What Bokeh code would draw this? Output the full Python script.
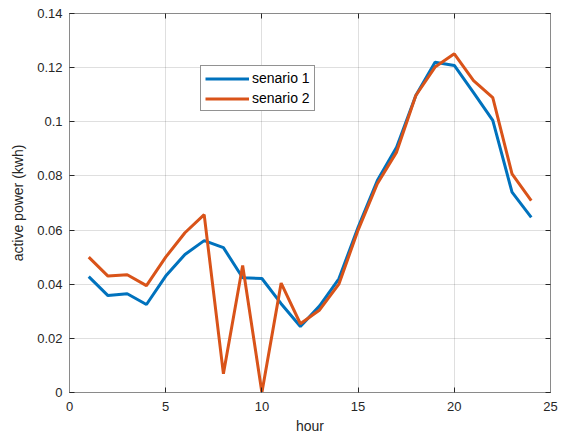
from bokeh.plotting import figure
from bokeh.models import LinearAxis, Range1d, FixedTicker, Legend, LegendItem
from bokeh.embed import file_html
from bokeh.resources import INLINE

hours = list(range(1, 25))
senario1 = [0.0428, 0.0358, 0.0365, 0.0325, 0.0430, 0.0510, 0.0561, 0.0535,
            0.0424, 0.0421, 0.0328, 0.0244, 0.0320, 0.0420, 0.0610, 0.0783,
            0.0906, 0.1097, 0.1220, 0.1208, 0.1108, 0.1005, 0.0740, 0.0647]
senario2 = [0.0500, 0.0430, 0.0435, 0.0395, 0.0500, 0.0590, 0.0657, 0.0069,
            0.0469, 0.0000, 0.0404, 0.0254, 0.0305, 0.0400, 0.0600, 0.0771,
            0.0888, 0.1097, 0.1202, 0.1251, 0.1152, 0.1089, 0.0808, 0.0709]
x_ticks = [0, 5, 10, 15, 20, 25]
y_ticks = [0, 0.02, 0.04, 0.06, 0.08, 0.1, 0.12, 0.14]
y_tick_labels = ["0", "0.02", "0.04", "0.06", "0.08", "0.1", "0.12", "0.14"]

FONT = "Liberation Sans"
AX = "#262626"
LINE = "#8a8a8a"

p = figure(width=562, height=436, output_backend="svg", toolbar_location=None,
           x_range=Range1d(0, 25), y_range=Range1d(0, 0.14),
           min_border_left=69, min_border_right=12, min_border_top=13, min_border_bottom=44)
p.background_fill_color = "white"
p.border_fill_color = "white"
p.outline_line_color = LINE
p.outline_line_width = 1

for ax in (p.xaxis[0], p.yaxis[0]):
    ax.axis_line_color = LINE
    ax.major_tick_line_color = AX
    ax.major_tick_in = 5
    ax.major_tick_out = 0
    ax.minor_tick_line_color = None
    ax.major_label_text_font = FONT
    ax.major_label_text_font_size = "13px"
    ax.major_label_text_color = AX
    ax.axis_label_text_font = FONT
    ax.axis_label_text_font_size = "14px"
    ax.axis_label_text_font_style = "normal"
    ax.axis_label_text_color = AX

p.xaxis.ticker = FixedTicker(ticks=x_ticks)
p.yaxis.ticker = FixedTicker(ticks=y_ticks)
p.yaxis.major_label_overrides = {t: l for t, l in zip(y_ticks, y_tick_labels)}
p.xaxis.axis_label = "hour"
p.yaxis.axis_label = "active power (kwh)"
p.xaxis.major_label_standoff = 9
p.xaxis.axis_label_standoff = 4
p.yaxis.major_label_standoff = 7
p.yaxis.axis_label_standoff = 8

for loc, ticks in (("above", x_ticks), ("right", y_ticks)):
    a = LinearAxis(ticker=FixedTicker(ticks=ticks), axis_line_color=LINE,
                   major_tick_line_color=AX, major_tick_in=5, major_tick_out=0,
                   minor_tick_line_color=None, major_label_text_font_size="0px",
                   major_label_text_color=None, major_label_standoff=0)
    p.add_layout(a, loc)

p.xgrid.ticker = FixedTicker(ticks=x_ticks)
p.ygrid.ticker = FixedTicker(ticks=y_ticks)
p.grid.grid_line_color = "#262626"
p.grid.grid_line_alpha = 0.15
p.grid.grid_line_width = 1

r1 = p.line(hours, senario1, line_color="#0072BD", line_width=3)
r2 = p.line(hours, senario2, line_color="#D95319", line_width=3)

legend = Legend(items=[LegendItem(label="senario 1", renderers=[r1]),
                       LegendItem(label="senario 2", renderers=[r2])],
                location=(131, 281))
legend.label_text_font = FONT
legend.label_text_font_size = "14px"
legend.label_text_color = "black"
legend.border_line_color = "#262626"
legend.border_line_width = 1
legend.glyph_width = 44
legend.glyph_height = 15
legend.label_height = 15
legend.spacing = 4
legend.padding = 4
legend.margin = 0
legend.label_standoff = 3
legend.background_fill_alpha = 1
p.add_layout(legend, "center")

open("out.html", "w").write(file_html(p, INLINE))
